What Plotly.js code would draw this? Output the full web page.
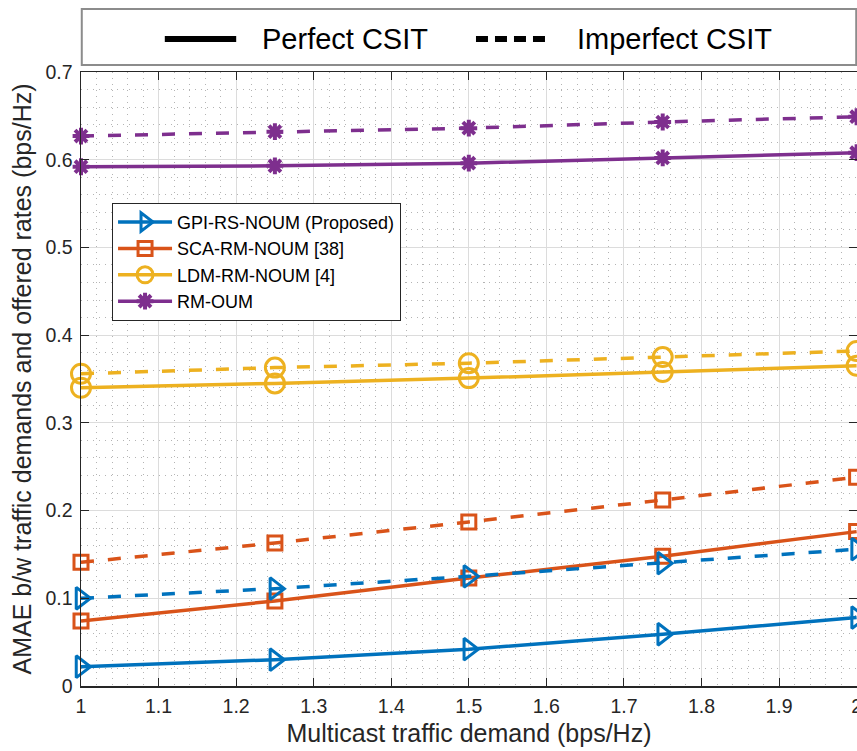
<!DOCTYPE html>
<html>
<head>
<meta charset="utf-8">
<script src="https://cdn.plot.ly/plotly-3.0.1.min.js"></script>
<style>
  html, body { margin: 0; padding: 0; background: #fff; overflow: hidden; }
  #chart { width: 857px; height: 751px; }
</style>
</head>
<body>
<div id="chart"></div>
<script>
// Multicast traffic demand (bps/Hz)
const demand = [1, 1.25, 1.5, 1.75, 2];

// AMAE between traffic demands and offered rates, perfect CSIT
const gpiPerfect = [0.022, 0.030, 0.042, 0.059, 0.078];
const scaPerfect = [0.074, 0.097, 0.123, 0.148, 0.176];
const ldmPerfect = [0.340, 0.345, 0.351, 0.358, 0.365];
const rmPerfect  = [0.592, 0.593, 0.596, 0.602, 0.608];

// Same metric, imperfect CSIT
const gpiImperfect = [0.100, 0.111, 0.125, 0.140, 0.156];
const scaImperfect = [0.141, 0.163, 0.187, 0.212, 0.238];
const ldmImperfect = [0.356, 0.363, 0.368, 0.375, 0.382];
const rmImperfect  = [0.627, 0.632, 0.636, 0.643, 0.649];

const schemeNames = ['GPI-RS-NOUM (Proposed)', 'SCA-RM-NOUM [38]', 'LDM-RM-NOUM [4]', 'RM-OUM'];
const csitNames = ['Perfect CSIT', 'Imperfect CSIT'];

const styles = [
  { color: '#0072BD', symbol: 'triangle-right-open', size: 19 },
  { color: '#D95319', symbol: 'square-open', size: 14 },
  { color: '#EDB120', symbol: 'circle-open', size: 19 },
  { color: '#7E2F8E', symbol: 'asterisk-open', size: 14 }
];

const perfect = [gpiPerfect, scaPerfect, ldmPerfect, rmPerfect];
const imperfect = [gpiImperfect, scaImperfect, ldmImperfect, rmImperfect];

function series(values, i, dashed) {
  const s = styles[i];
  return {
    x: demand,
    y: values,
    type: 'scatter',
    mode: 'lines+markers',
    name: schemeNames[i],
    showlegend: !dashed,
    cliponaxis: false,
    line: { color: s.color, width: 3.5, dash: dashed ? '13px,14px' : 'solid' },
    marker: {
      symbol: s.symbol,
      size: s.size,
      color: s.color,
      line: { color: s.color, width: i === 3 ? 4 : 3 }
    }
  };
}

const traces = [];
perfect.forEach((v, i) => traces.push(series(v, i, false)));
imperfect.forEach((v, i) => traces.push(series(v, i, true)));

const axisFont = { family: 'Liberation Sans, Arial, sans-serif', size: 19.5, color: '#262626' };

const layout = {
  width: 857,
  height: 751,
  margin: { l: 81, r: 0, t: 72, b: 65 },
  paper_bgcolor: '#ffffff',
  plot_bgcolor: '#ffffff',
  font: { family: 'Liberation Sans, Arial, sans-serif', color: '#262626' },
  showlegend: true,
  legend: {
    x: 0.04, y: 0.787, xanchor: 'left', yanchor: 'top',
    bgcolor: '#ffffff', bordercolor: '#262626', borderwidth: 1,
    font: { size: 18, color: '#000000' },
    itemwidth: 54,
    tracegroupgap: 0
  },
  xaxis: {
    range: [1, 2.0005],
    dtick: 0.1,
    tick0: 1,
    ticks: 'inside',
    ticklen: 8,
    tickcolor: '#262626',
    tickfont: axisFont,
    ticklabelstandoff: 2,
    ticklabeloverflow: 'allow',
    showline: true,
    linecolor: '#262626',
    linewidth: 1.5,
    mirror: 'ticks',
    showgrid: true,
    gridcolor: '#dcdcdc',
    gridwidth: 1,
    minor: { dtick: 0.02, showgrid: true, gridcolor: '#b4b4b4', griddash: '1px,5px', gridwidth: 1 },
    zeroline: false,
    title: { text: 'Multicast traffic demand (bps/Hz)', font: { size: 25, color: '#262626' }, standoff: 8 }
  },
  yaxis: {
    range: [0, 0.7],
    dtick: 0.1,
    tick0: 0,
    ticks: 'inside',
    ticklen: 8,
    tickcolor: '#262626',
    tickfont: axisFont,
    ticklabelstandoff: 3,
    showline: true,
    linecolor: '#262626',
    linewidth: 1.5,
    mirror: 'ticks',
    showgrid: true,
    gridcolor: '#dcdcdc',
    gridwidth: 1,
    minor: { dtick: 0.02, showgrid: true, gridcolor: '#b4b4b4', griddash: '1px,5px', gridwidth: 1 },
    zeroline: false,
    title: { text: 'AMAE b/w traffic demands and offered rates (bps/Hz)', font: { size: 25, color: '#262626' }, standoff: 6 }
  },
  // CSIT line-style key above the axes
  shapes: [
    { type: 'rect', xref: 'paper', yref: 'paper', x0: 0.001, x1: 0.999, y0: 1.0114, y1: 1.1026,
      line: { color: '#8c8c8c', width: 2 }, fillcolor: '#ffffff' },
    { type: 'line', xref: 'paper', yref: 'paper', x0: 0.108, x1: 0.2, y0: 1.0537, y1: 1.0537,
      line: { color: '#000000', width: 6 } },
    { type: 'line', xref: 'paper', yref: 'paper', x0: 0.509, x1: 0.602, y0: 1.0537, y1: 1.0537,
      line: { color: '#000000', width: 6, dash: '12px,7px' } }
  ],
  annotations: [
    { xref: 'paper', yref: 'paper', x: 0.231, y: 1.0537, xanchor: 'left', yanchor: 'middle',
      text: csitNames[0], showarrow: false, font: { size: 29, color: '#000000' } },
    { xref: 'paper', yref: 'paper', x: 0.637, y: 1.0537, xanchor: 'left', yanchor: 'middle',
      text: csitNames[1], showarrow: false, font: { size: 29, color: '#000000' } }
  ]
};

Plotly.newPlot('chart', traces, layout, { displayModeBar: false, staticPlot: true });
</script>
</body>
</html>
